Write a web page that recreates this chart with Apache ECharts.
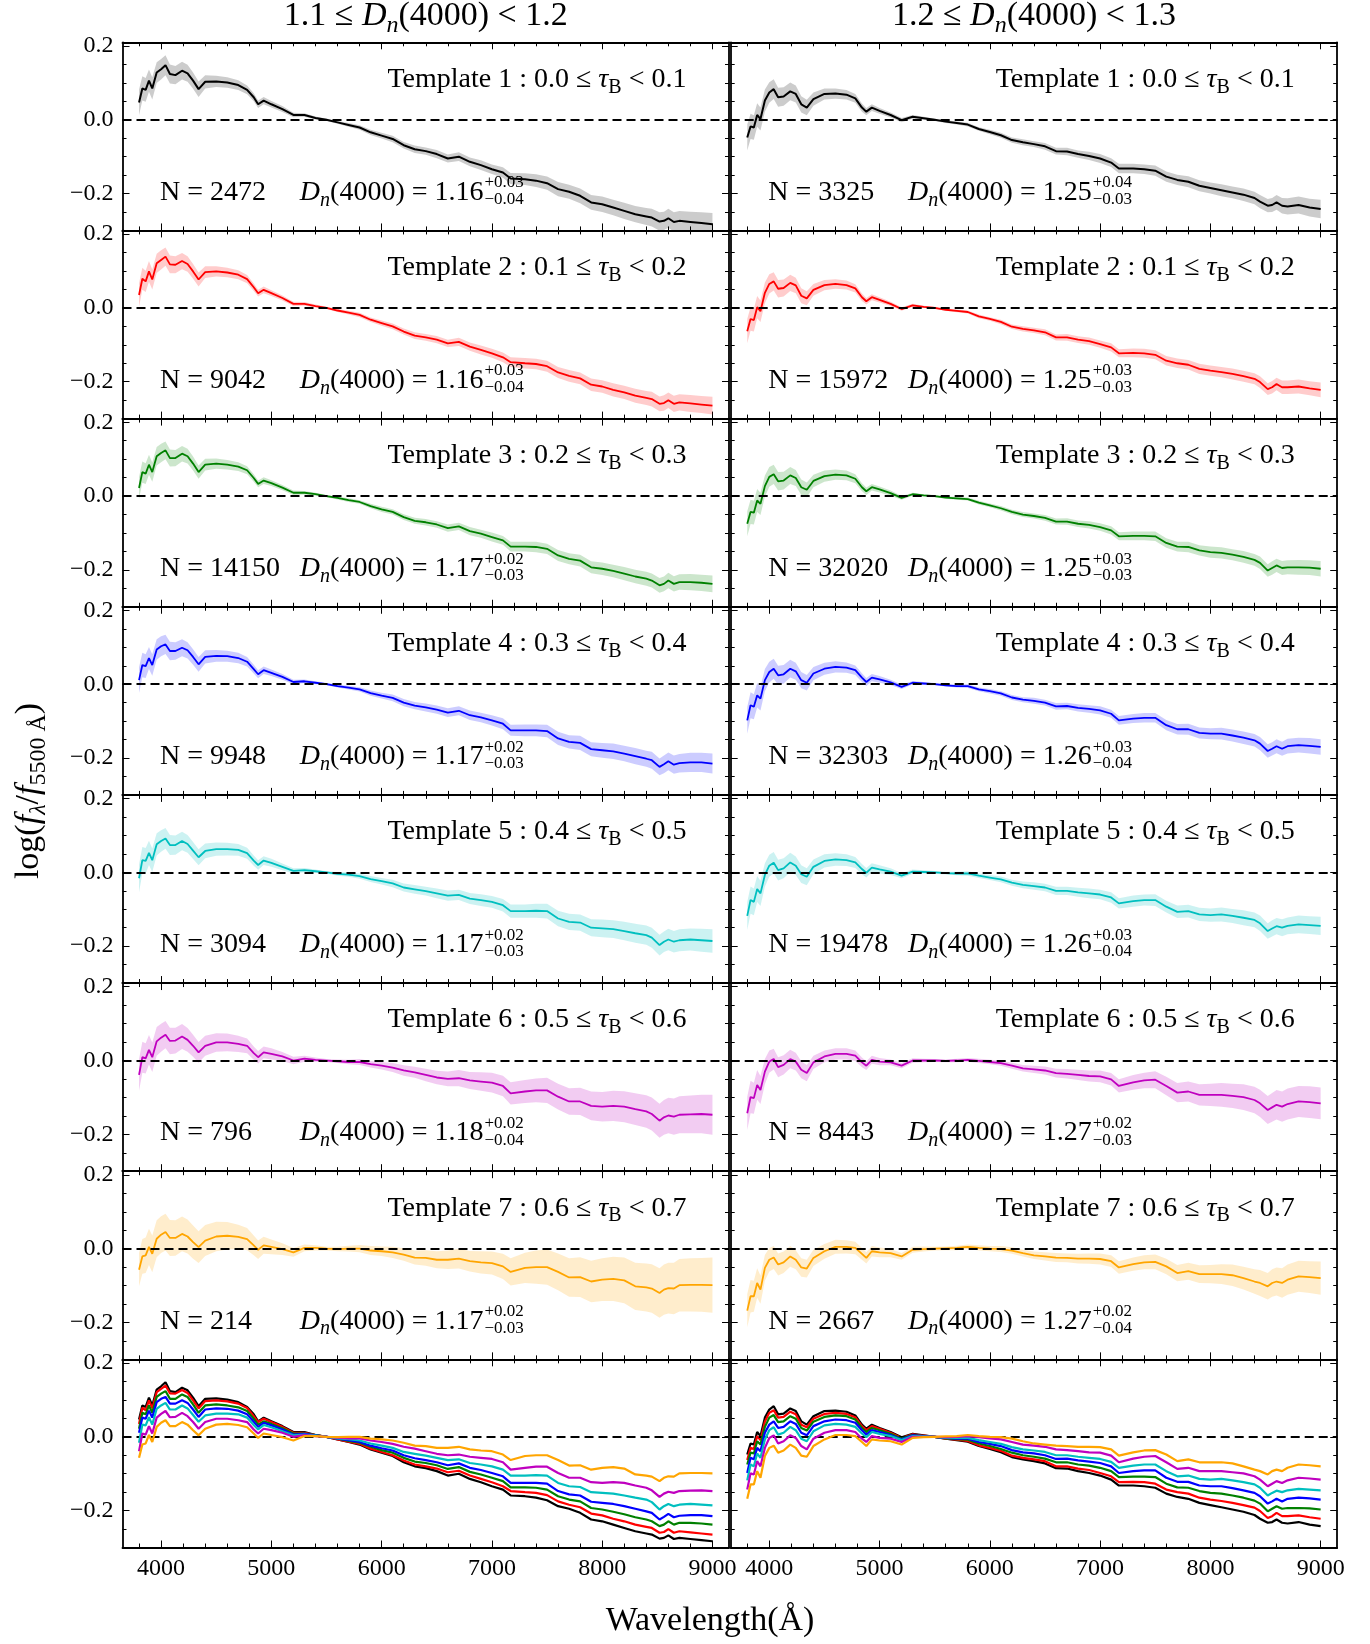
<!DOCTYPE html>
<html><head><meta charset="utf-8">
<script src="https://cdn.jsdelivr.net/npm/echarts@6/dist/echarts.min.js"></script>
<style>html,body{margin:0;padding:0;background:#fff}#c{width:1370px;height:1644px}</style>
</head><body><div id="c"></div>
<script>
// ---------------- DATA ----------------
const WAVE = [3800,3830,3860,3890,3920,3960,4000,4040,4080,4130,4190,4240,4290,4340,4400,4500,4600,4700,4780,4840,4880,4930,5000,5100,5200,5300,5400,5500,5600,5700,5800,5900,6000,6100,6200,6300,6400,6500,6600,6700,6800,6900,7000,7100,7170,7300,7400,7500,7600,7700,7800,7900,8000,8100,8200,8300,8400,8450,8520,8560,8600,8650,8700,8800,8900,9000];

// left column: 1.1 <= Dn(4000) < 1.2, templates 1..7 (mean log flux)
const L1 = [0.047,0.085,0.081,0.106,0.085,0.128,0.137,0.148,0.124,0.121,0.133,0.126,0.106,0.083,0.103,0.104,0.101,0.094,0.081,0.061,0.042,0.052,0.042,0.029,0.013,0.013,0.005,0,-0.007,-0.014,-0.021,-0.034,-0.043,-0.052,-0.069,-0.080,
  -0.085,-0.093,-0.105,-0.100,-0.114,-0.123,-0.134,-0.143,-0.159,-0.161,-0.165,-0.172,-0.188,-0.195,-0.206,-0.224,-0.229,-0.238,-0.247,-0.256,-0.262,-0.265,-0.276,-0.274,-0.267,-0.277,-0.274,-0.277,-0.280,-0.283];
const L2 = [0.035,0.079,0.072,0.099,0.077,0.121,0.130,0.139,0.118,0.117,0.127,0.119,0.099,0.077,0.097,0.099,0.096,0.090,0.078,0.056,0.040,0.049,0.040,0.027,0.011,0.011,0.005,0,-0.007,-0.013,-0.019,-0.032,-0.041,-0.050,-0.064,-0.075,
  -0.080,-0.086,-0.096,-0.092,-0.105,-0.114,-0.123,-0.134,-0.147,-0.150,-0.152,-0.158,-0.175,-0.184,-0.191,-0.208,-0.213,-0.222,-0.229,-0.238,-0.244,-0.247,-0.260,-0.258,-0.250,-0.260,-0.256,-0.259,-0.262,-0.265];
const L3 = [0.022,0.065,0.061,0.085,0.065,0.108,0.117,0.124,0.103,0.103,0.115,0.108,0.088,0.065,0.085,0.088,0.085,0.080,0.070,0.049,0.033,0.042,0.035,0.023,0.009,0.009,0.005,0,-0.005,-0.011,-0.016,-0.027,-0.036,-0.043,-0.057,-0.067,
  -0.071,-0.077,-0.087,-0.082,-0.095,-0.102,-0.111,-0.120,-0.137,-0.137,-0.138,-0.143,-0.161,-0.170,-0.175,-0.193,-0.197,-0.203,-0.210,-0.218,-0.224,-0.229,-0.242,-0.238,-0.229,-0.238,-0.233,-0.233,-0.235,-0.238];
const L4 = [0.011,0.052,0.049,0.071,0.052,0.094,0.103,0.108,0.090,0.090,0.099,0.092,0.074,0.054,0.074,0.077,0.076,0.071,0.061,0.041,0.027,0.038,0.031,0.020,0.006,0.008,0.004,0,-0.005,-0.009,-0.014,-0.024,-0.031,-0.037,-0.050,-0.058,
  -0.063,-0.069,-0.077,-0.072,-0.084,-0.090,-0.098,-0.107,-0.125,-0.125,-0.125,-0.127,-0.147,-0.156,-0.159,-0.176,-0.179,-0.182,-0.188,-0.195,-0.202,-0.206,-0.224,-0.217,-0.209,-0.218,-0.214,-0.212,-0.212,-0.215];
const L5 = [-0.016,0.033,0.031,0.053,0.033,0.076,0.085,0.092,0.074,0.074,0.085,0.077,0.059,0.041,0.058,0.063,0.063,0.061,0.052,0.032,0.020,0.032,0.026,0.015,0.004,0.006,0.003,0,-0.004,-0.006,-0.010,-0.018,-0.024,-0.030,-0.041,-0.046,
  -0.051,-0.057,-0.063,-0.061,-0.071,-0.075,-0.080,-0.089,-0.105,-0.105,-0.104,-0.105,-0.125,-0.134,-0.136,-0.150,-0.152,-0.154,-0.159,-0.165,-0.170,-0.177,-0.197,-0.188,-0.182,-0.188,-0.184,-0.182,-0.184,-0.186];
const L6 = [-0.039,0.009,0.006,0.029,0.009,0.052,0.062,0.070,0.053,0.054,0.065,0.056,0.040,0.022,0.040,0.049,0.049,0.045,0.040,0.020,0.009,0.022,0.018,0.011,0,0.005,0.002,0,-0.002,-0.004,-0.004,-0.010,-0.014,-0.019,-0.027,-0.032,
  -0.039,-0.046,-0.050,-0.048,-0.054,-0.057,-0.060,-0.069,-0.089,-0.084,-0.081,-0.081,-0.098,-0.111,-0.111,-0.123,-0.125,-0.123,-0.125,-0.132,-0.138,-0.145,-0.163,-0.154,-0.149,-0.152,-0.147,-0.146,-0.145,-0.147];
const L7 = [-0.057,-0.021,-0.018,0.005,-0.014,0.027,0.038,0.045,0.029,0.029,0.040,0.033,0.018,0.004,0.022,0.033,0.035,0.032,0.026,0.009,-0.003,0.009,0.005,-0.001,-0.010,0.002,0.002,0,-0.001,0,0,-0.005,-0.007,-0.010,-0.016,-0.024,
  -0.025,-0.030,-0.030,-0.027,-0.034,-0.037,-0.039,-0.048,-0.063,-0.052,-0.050,-0.050,-0.063,-0.078,-0.077,-0.089,-0.084,-0.082,-0.086,-0.102,-0.105,-0.108,-0.120,-0.111,-0.107,-0.108,-0.099,-0.098,-0.098,-0.099];

// right column: 1.2 <= Dn(4000) < 1.3
const R1 = [-0.048,-0.018,-0.021,0.013,0.002,0.052,0.074,0.083,0.061,0.063,0.077,0.070,0.042,0.033,0.056,0.070,0.071,0.068,0.058,0.033,0.022,0.033,0.024,0.013,-0.001,0.008,0.004,0,-0.005,-0.009,-0.013,-0.025,-0.033,-0.042,-0.055,-0.061,
  -0.066,-0.072,-0.085,-0.086,-0.093,-0.098,-0.105,-0.116,-0.132,-0.132,-0.134,-0.138,-0.154,-0.163,-0.168,-0.179,-0.185,-0.191,-0.197,-0.203,-0.212,-0.222,-0.233,-0.231,-0.224,-0.233,-0.235,-0.231,-0.238,-0.242];
const R2 = [-0.063,-0.030,-0.033,0.002,-0.009,0.041,0.065,0.072,0.052,0.054,0.068,0.061,0.033,0.026,0.049,0.062,0.065,0.062,0.053,0.029,0.018,0.029,0.022,0.011,-0.003,0.007,0.003,0,-0.005,-0.008,-0.011,-0.023,-0.030,-0.038,-0.051,-0.057,
  -0.061,-0.066,-0.080,-0.080,-0.086,-0.090,-0.098,-0.107,-0.123,-0.122,-0.123,-0.127,-0.143,-0.150,-0.154,-0.165,-0.170,-0.174,-0.179,-0.185,-0.192,-0.201,-0.220,-0.215,-0.206,-0.215,-0.215,-0.213,-0.218,-0.222];
const R3 = [-0.075,-0.043,-0.045,-0.012,-0.021,0.027,0.052,0.059,0.040,0.042,0.056,0.049,0.024,0.017,0.041,0.054,0.058,0.056,0.047,0.024,0.013,0.024,0.018,0.008,-0.005,0.005,0.002,0,-0.004,-0.006,-0.008,-0.018,-0.025,-0.033,-0.043,-0.050,
  -0.054,-0.059,-0.069,-0.069,-0.075,-0.078,-0.084,-0.093,-0.109,-0.108,-0.108,-0.109,-0.127,-0.137,-0.138,-0.147,-0.152,-0.154,-0.159,-0.165,-0.173,-0.181,-0.202,-0.195,-0.188,-0.195,-0.193,-0.193,-0.194,-0.197];
const R4 = [-0.098,-0.057,-0.061,-0.030,-0.039,0.011,0.033,0.042,0.024,0.027,0.042,0.035,0.011,0.004,0.029,0.042,0.047,0.045,0.038,0.018,0.006,0.018,0.013,0.005,-0.007,0.004,0.002,0,-0.003,-0.005,-0.005,-0.014,-0.019,-0.025,-0.036,-0.042,
  -0.045,-0.050,-0.060,-0.059,-0.064,-0.067,-0.071,-0.080,-0.098,-0.093,-0.091,-0.091,-0.111,-0.122,-0.122,-0.132,-0.134,-0.134,-0.139,-0.145,-0.152,-0.161,-0.181,-0.175,-0.168,-0.175,-0.168,-0.165,-0.167,-0.170];
const R5 = [-0.118,-0.075,-0.080,-0.045,-0.057,-0.007,0.018,0.026,0.006,0.011,0.027,0.018,-0.005,-0.012,0.015,0.031,0.035,0.033,0.027,0.009,-0.001,0.013,0.008,0.002,-0.009,0.002,0.001,0,-0.002,-0.003,-0.003,-0.009,-0.014,-0.019,-0.028,-0.034,
  -0.037,-0.041,-0.050,-0.050,-0.054,-0.057,-0.060,-0.068,-0.084,-0.078,-0.075,-0.075,-0.093,-0.107,-0.105,-0.114,-0.116,-0.114,-0.118,-0.123,-0.129,-0.138,-0.159,-0.152,-0.146,-0.150,-0.145,-0.141,-0.143,-0.145];
const R6 = [-0.143,-0.099,-0.102,-0.066,-0.080,-0.030,-0.003,0.004,-0.018,-0.012,0.004,-0.003,-0.025,-0.034,-0.005,0.011,0.018,0.018,0.013,-0.005,-0.014,0.002,-0.003,-0.005,-0.014,0,0,0,-0.001,0,0.002,-0.001,-0.004,-0.007,-0.014,-0.021,
  -0.024,-0.027,-0.034,-0.036,-0.039,-0.042,-0.043,-0.051,-0.069,-0.059,-0.054,-0.052,-0.069,-0.087,-0.084,-0.093,-0.093,-0.093,-0.096,-0.099,-0.107,-0.116,-0.134,-0.127,-0.120,-0.125,-0.118,-0.111,-0.113,-0.116];
const R7 = [-0.168,-0.129,-0.129,-0.093,-0.111,-0.052,-0.030,-0.024,-0.043,-0.037,-0.021,-0.030,-0.051,-0.054,-0.025,-0.007,0.005,0.005,0.002,-0.014,-0.025,-0.007,-0.010,-0.012,-0.021,-0.003,-0.001,0,0.001,0.002,0.005,0.002,0,-0.001,-0.005,-0.012,
  -0.018,-0.021,-0.024,-0.025,-0.027,-0.027,-0.028,-0.034,-0.051,-0.042,-0.037,-0.036,-0.048,-0.066,-0.061,-0.069,-0.069,-0.069,-0.072,-0.080,-0.089,-0.093,-0.102,-0.093,-0.089,-0.093,-0.084,-0.075,-0.077,-0.080];

// half-widths of the shaded scatter bands (units of 0.001 in log flux)
const WL1 = [35,33,32,30,30,28,28,27,26,25,24,23,22,21,18,15,14,13,12,11,10,10,9,8,6,5,4,3,4,5,6,7,8,9,9,10,10,11,11,12,12,13,13,14,15,16,17,18,19,19,20,20,21,21,22,22,23,24,25,25,26,26,27,28,29,30];
const WL2 = [32,30,29,28,27,26,26,25,24,23,22,21,20,19,16,14,13,12,11,10,9,9,8,7,6,5,4,3,4,5,6,6,7,8,8,9,9,10,10,11,11,12,12,13,13,14,14,15,15,16,16,17,17,18,18,19,19,20,20,21,21,22,22,23,23,24];
const WL3 = [30,29,28,27,26,25,25,24,23,22,21,20,19,18,16,14,13,12,11,10,9,9,8,7,6,5,4,3,4,5,5,6,7,7,8,8,9,9,10,10,11,11,12,12,13,13,14,14,15,15,16,16,17,17,18,18,19,19,20,20,21,21,21,22,22,23];
const WL4 = [35,33,32,30,29,28,27,26,25,24,23,22,21,20,18,16,15,14,13,12,11,10,9,8,6,5,4,3,4,5,6,7,8,9,10,10,11,11,12,12,13,13,14,15,15,16,16,17,18,18,19,19,20,21,21,22,22,23,23,24,24,25,25,26,26,27];
const WL5 = [38,36,35,33,32,30,29,28,27,26,25,24,23,22,20,18,17,16,15,14,13,12,11,9,7,6,5,3,5,6,7,8,9,10,11,12,12,13,14,14,15,16,16,17,18,18,19,20,21,22,22,23,24,24,25,26,26,27,28,28,29,29,30,30,31,32];
const WL6 = [43,42,41,40,40,39,38,37,36,35,34,32,30,28,27,25,24,22,20,18,17,16,15,12,10,8,6,4,5,6,8,9,10,12,14,15,17,18,20,22,23,25,27,28,30,31,32,34,35,36,37,39,40,41,42,43,44,45,46,47,48,49,50,51,52,54];
const WL7 = [45,47,48,49,50,50,50,50,49,48,47,46,45,43,42,40,37,33,30,27,25,23,20,16,12,9,7,5,6,8,10,12,13,15,17,19,21,23,25,27,28,30,31,34,37,41,45,48,50,52,54,56,58,60,62,64,65,66,67,68,69,70,71,72,73,75];
const WR1 = [35,34,33,32,31,30,28,27,26,25,24,23,22,21,18,15,14,13,12,11,10,9,8,7,6,5,4,3,4,4,5,5,6,7,7,8,8,9,9,10,10,11,12,12,13,13,13,14,14,14,15,15,15,16,16,17,17,18,18,19,20,21,22,23,24,25];
const WR2 = [33,32,31,30,29,28,26,25,24,23,22,21,20,19,16,14,13,12,11,10,9,8,7,6,5,4,3,3,3,4,4,5,5,6,6,7,7,8,8,9,9,10,10,11,11,12,12,12,13,13,13,14,14,14,15,15,15,16,16,17,17,18,18,19,19,20];
const WR3 = [34,33,32,31,30,29,27,26,25,24,23,22,21,20,17,15,14,13,12,11,10,9,8,7,5,4,3,3,3,4,4,5,5,6,6,7,7,8,8,9,9,10,10,11,11,12,12,13,13,13,14,14,15,15,15,16,16,17,17,18,18,19,19,20,20,21];
const WR4 = [36,35,34,33,32,30,28,27,26,25,24,23,22,21,18,16,15,14,13,12,11,10,9,7,6,5,4,3,3,4,5,5,6,6,7,7,8,8,9,9,10,10,11,11,12,12,13,13,14,14,15,15,15,16,16,17,17,18,18,18,19,19,20,20,21,21];
const WR5 = [38,37,36,35,34,32,30,29,28,27,26,25,24,23,20,18,17,16,15,14,13,12,11,9,7,6,5,4,4,5,6,6,7,8,8,9,10,10,11,11,12,13,13,14,14,15,15,16,16,17,17,18,18,19,19,20,20,21,21,22,22,23,23,24,24,25];
const WR6 = [45,44,42,40,38,34,30,28,27,26,25,24,23,22,18,16,15,15,14,13,12,11,10,8,7,6,5,4,4,5,5,6,6,7,8,9,10,11,12,13,14,15,16,17,18,20,21,23,25,26,27,29,30,32,33,35,36,37,38,39,40,41,42,42,43,43];
const WR7 = [45,44,42,40,38,35,32,31,30,29,28,26,25,24,22,20,19,18,17,16,15,14,13,11,9,8,7,5,5,6,6,7,7,8,9,9,10,11,12,12,13,14,15,16,17,18,19,20,21,22,23,24,25,27,29,31,33,35,36,37,38,40,41,42,43,45];

const COLUMN_TITLES = [['1.1', '1.2'], ['1.2', '1.3']];
const TAU_BINS = [['0.0','0.1'],['0.1','0.2'],['0.2','0.3'],['0.3','0.4'],['0.4','0.5'],['0.5','0.6'],['0.6','0.7']];
const N_LEFT  = ['2472','9042','14150','9948','3094','796','214'];
const N_RIGHT = ['3325','15972','32020','32303','19478','8443','2667'];
const DN_LEFT     = ['1.16','1.16','1.17','1.17','1.17','1.18','1.17'];
const DN_LEFT_UP  = ['+0.03','+0.03','+0.02','+0.02','+0.02','+0.02','+0.02'];
const DN_LEFT_LO  = ['\u22120.04','\u22120.04','\u22120.03','\u22120.03','\u22120.03','\u22120.04','\u22120.03'];
const DN_RIGHT    = ['1.25','1.25','1.25','1.26','1.26','1.27','1.27'];
const DN_RIGHT_UP = ['+0.04','+0.03','+0.03','+0.03','+0.03','+0.02','+0.02'];
const DN_RIGHT_LO = ['\u22120.03','\u22120.03','\u22120.03','\u22120.04','\u22120.04','\u22120.03','\u22120.04'];

const X_MAJOR = [4000,5000,6000,7000,8000,9000];
const X_MINOR = [3800,4200,4400,4600,4800,5200,5400,5600,5800,6200,6400,6600,6800,7200,7400,7600,7800,8200,8400,8600,8800];
const Y_MAJOR = [-0.2, 0, 0.2];
const Y_MINOR = [-0.25,-0.15,-0.1,-0.05,0.05,0.1,0.15];
const X_MIN = 3650, X_MAX = 9150, Y_MIN = -0.3, Y_MAX = 0.21;

// ---------------- STYLE / LAYOUT ----------------
const COLORS = ['#000000','#ff0000','#008000','#0000ff','#00bfbf','#bf00bf','#ffa500'];
const BANDS  = ['rgba(0,0,0,0.2)','rgba(255,0,0,0.2)','rgba(0,128,0,0.2)','rgba(0,0,255,0.2)','rgba(0,191,191,0.2)','rgba(191,0,191,0.2)','rgba(255,165,0,0.2)'];
const FONT = 'Liberation Serif';
const GRID_LEFT = [122.5, 730.7], GRID_W = 606.5, TOP0 = 42.3, ROW_H = 188.15, NROW = 8;

const MEANS  = [[L1,L2,L3,L4,L5,L6,L7],[R1,R2,R3,R4,R5,R6,R7]];
const WIDTHS = [[WL1,WL2,WL3,WL4,WL5,WL6,WL7],[WR1,WR2,WR3,WR4,WR5,WR6,WR7]];
const NS = [N_LEFT, N_RIGHT];
const DNS = [[DN_LEFT, DN_LEFT_UP, DN_LEFT_LO],[DN_RIGHT, DN_RIGHT_UP, DN_RIGHT_LO]];

const grids = [], xAxes = [], yAxes = [], series = [], graphics = [];
const fmtY = v => (v < -1e-9 ? '\u2212' : '') + Math.abs(v).toFixed(1);
const lineW = 1.8, SPINE = 1.8;

function xAxis(g, pos, major, showLabel) {
  return { type:'value', gridIndex:g, position:pos, min:X_MIN, max:X_MAX,
    axisLine:{ show:major, onZero:false, lineStyle:{ color:'#000', width:SPINE } },
    axisTick:{ show:true, inside:true, length: major ? 7 : 4, customValues: major ? X_MAJOR : X_MINOR, lineStyle:{ color:'#000', width:1 } },
    axisLabel:{ show: showLabel, customValues: X_MAJOR, formatter: v => String(v), color:'#000', fontSize:24, fontFamily:FONT, margin:9 },
    splitLine:{ show:false }, minorTick:{ show:false }, axisPointer:{ show:false } };
}
function yAxis(g, pos, major, showLabel) {
  return { type:'value', gridIndex:g, position:pos, min:Y_MIN, max:Y_MAX,
    axisLine:{ show:major, onZero:false, lineStyle:{ color:'#000', width:SPINE } },
    axisTick:{ show:true, inside:true, length: major ? 7 : 4, customValues: major ? Y_MAJOR : Y_MINOR, lineStyle:{ color:'#000', width:1 } },
    axisLabel:{ show: showLabel, customValues: Y_MAJOR, formatter: fmtY, color:'#000', fontSize:24, fontFamily:FONT, margin:9 },
    splitLine:{ show:false }, minorTick:{ show:false }, axisPointer:{ show:false } };
}
function rich(s) {
  const lh = Math.round(s * 1.3), ss = Math.round(s * 0.7);
  return {
    it:  { fontStyle:'italic', fontSize:s, fontFamily:FONT, fill:'#000', lineHeight:lh },
    sub: { fontSize:ss, fontFamily:FONT, fill:'#000', lineHeight:Math.round(s*0.72), verticalAlign:'bottom' },
    subi:{ fontSize:ss, fontStyle:'italic', fontFamily:FONT, fill:'#000', lineHeight:Math.round(s*0.72), verticalAlign:'bottom' }
  };
}
function text(x, y, str, size, align, extra) {
  return Object.assign({ type:'text', x:x, y:y, silent:true, z:100,
    style:{ text:str, fill:'#000', font: size + 'px "' + FONT + '"', align:align, verticalAlign:'middle', rich:rich(size) } }, extra || {});
}
const zeroLine = { silent:true, symbol:['none','none'], label:{ show:false }, animation:false,
  lineStyle:{ color:'#000', type:[9,5], width:2 }, data:[{ yAxis:0 }] };

function bandSeries(xi, yi, band, color) {
  return { type:'custom', xAxisIndex:xi, yAxisIndex:yi, silent:true, z:1, clip:true,
    data:band, encode:{ x:0, y:[1,2] },
    renderItem: function (params, api) {
      if (params.dataIndex !== 0) return { type:'group', children:[] };
      const pts = [];
      for (let i = 0; i < band.length; i++) pts.push(api.coord([band[i][0], band[i][2]]));
      for (let i = band.length - 1; i >= 0; i--) pts.push(api.coord([band[i][0], band[i][1]]));
      return { type:'polygon', shape:{ points:pts }, style:{ fill:color, stroke:null } };
    } };
}

const TXT = 28, SUPTXT = 17;
let g = 0;
for (let c = 0; c < 2; c++) {
  for (let r = 0; r < NROW; r++, g++) {
    const top = TOP0 + r * ROW_H;
    grids.push({ left:GRID_LEFT[c], top:top, width:GRID_W, height:ROW_H, containLabel:false, outerBoundsMode:'none' });
    const bottomRow = r === NROW - 1;
    xAxes.push(xAxis(g,'bottom',true,bottomRow), xAxis(g,'bottom',false,false), xAxis(g,'top',true,false), xAxis(g,'top',false,false));
    yAxes.push(yAxis(g,'left',true,c === 0), yAxis(g,'left',false,false), yAxis(g,'right',true,false), yAxis(g,'right',false,false));
    const xi = g * 4, yi = g * 4;
    if (!bottomRow) {
      const mean = MEANS[c][r], wid = WIDTHS[c][r];
      const n = Math.min(WAVE.length, mean.length, wid.length);
      const band = [], line = [];
      for (let i = 0; i < n; i++) {
        band.push([WAVE[i], mean[i] - wid[i] / 1000, mean[i] + wid[i] / 1000]);
        line.push([WAVE[i], mean[i]]);
      }
      series.push(bandSeries(xi, yi, band, BANDS[r]));
      series.push({ type:'line', xAxisIndex:xi, yAxisIndex:yi, data:line, symbol:'none', silent:true,
        lineStyle:{ color:COLORS[r], width: r === 0 ? 2 : lineW }, z:3, markLine:zeroLine });

      const gl = GRID_LEFT[c];
      graphics.push(text(gl + GRID_W - 42.5, top + 37,
        'Template ' + (r + 1) + ' : ' + TAU_BINS[r][0] + ' \u2264 {it|\u03c4}{sub|B} < ' + TAU_BINS[r][1], TXT, 'right'));
      graphics.push(text(gl + 37.5, top + 150, 'N = ' + NS[c][r], TXT, 'left'));
      graphics.push(text(gl + 361, top + 150, '{it|D}{subi|n}(4000) = ' + DNS[c][0][r], TXT, 'right'));
      graphics.push(text(gl + 362, top + 140.5, DNS[c][1][r], SUPTXT, 'left'));
      graphics.push(text(gl + 362, top + 157, DNS[c][2][r], SUPTXT, 'left'));
    } else {
      for (let k = 0; k < 7; k++) {
        const mean = MEANS[c][k];
        const line = [];
        for (let i = 0; i < Math.min(WAVE.length, mean.length); i++) line.push([WAVE[i], mean[i]]);
        const s = { type:'line', xAxisIndex:xi, yAxisIndex:yi, data:line, symbol:'none', silent:true,
          lineStyle:{ color:COLORS[k], width:2.2 }, z:3 + k };
        if (k === 0) s.markLine = zeroLine;
        series.push(s);
      }
    }
  }
}

// column titles and axis names
for (let c = 0; c < 2; c++) {
  graphics.push(text(GRID_LEFT[c] + GRID_W / 2, 16,
    COLUMN_TITLES[c][0] + ' \u2264 {it|D}{subi|n}(4000) < ' + COLUMN_TITLES[c][1], 34, 'center'));
}
graphics.push(text(710, 1621, 'Wavelength(\u00c5)', 34, 'center'));
graphics.push(text(29, 791, 'log({it|f}{subi|\u03bb}/{it|f}{sub|5500 \u00c5})', 34, 'center', { rotation: Math.PI / 2 }));

const chart = echarts.init(document.getElementById('c'), null, { renderer:'canvas' });
chart.setOption({
  animation:false, backgroundColor:'#fff',
  grid:grids, xAxis:xAxes, yAxis:yAxes, series:series, graphic:graphics
});
</script>
</body></html>
